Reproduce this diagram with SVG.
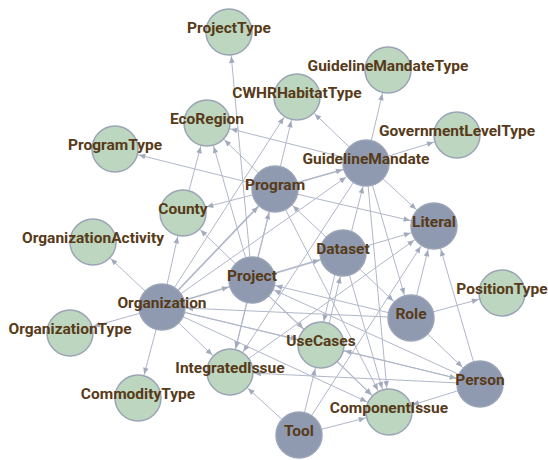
<svg xmlns="http://www.w3.org/2000/svg" width="548" height="460" viewBox="0 0 548 460">
  <style>
    .e { stroke: #b0b7c8; stroke-width: 1; fill: none; marker-end: url(#arr); }
    .t { stroke-width: 1.7; }
    .n circle { stroke: #9ba4b6; stroke-width: 1.5; }
    .c circle { fill: #bdd6bf; }
    .k circle { fill: #8f9ab0; }
    .n text { font-family: Roboto, "Liberation Sans", sans-serif; font-weight: 700; font-size: 15.5px; fill: #573a18; text-anchor: middle; }
  </style>
  <defs>
    <!-- arrowhead drawn 24.5 units back from the line end, i.e. on the target circle's rim -->
    <marker id="arr" viewBox="-40 -5 40 10" markerWidth="40" markerHeight="10" refX="0" refY="0" markerUnits="userSpaceOnUse" orient="auto">
      <path d="M-31,-2.8 L-24.5,0 L-31,2.8 z" fill="#a2aabd"/>
    </marker>
  </defs>
  <rect width="548" height="460" fill="#ffffff"/>

  <g id="edges">
    <!-- Organization -->
    <line class="e" x1="162" y1="307" x2="93" y2="242"/>
    <line class="e" x1="162" y1="307" x2="70" y2="333"/>
    <line class="e" x1="162" y1="307" x2="138" y2="398"/>
    <line class="e" x1="162" y1="307" x2="230" y2="372"/>
    <line class="e" x1="162" y1="307" x2="183" y2="213"/>
    <line class="e" x1="162" y1="307" x2="297" y2="97"/>
    <line class="e t" x1="162" y1="307" x2="252" y2="280"/>
    <line class="e t" x1="162" y1="307" x2="275" y2="189"/>
    <line class="e" x1="162" y1="307" x2="366" y2="163"/>
    <line class="e" x1="162" y1="307" x2="321" y2="345"/>
    <line class="e" x1="162" y1="307" x2="389" y2="412"/>
    <line class="e" x1="162" y1="307" x2="480" y2="384"/>
    <!-- Program -->
    <line class="e" x1="275" y1="189" x2="115" y2="149"/>
    <line class="e" x1="275" y1="189" x2="183" y2="213"/>
    <line class="e" x1="275" y1="189" x2="207" y2="123"/>
    <line class="e" x1="275" y1="189" x2="297" y2="97"/>
    <line class="e t" x1="275" y1="189" x2="366" y2="163"/>
    <line class="e" x1="275" y1="189" x2="434" y2="226"/>
    <line class="e" x1="275" y1="189" x2="389" y2="412"/>
    <line class="e" x1="275" y1="189" x2="230" y2="372"/>
    <!-- Project -->
    <line class="e" x1="252" y1="280" x2="229" y2="32"/>
    <line class="e" x1="252" y1="280" x2="207" y2="123"/>
    <line class="e" x1="252" y1="280" x2="275" y2="189"/>
    <line class="e t" x1="252" y1="280" x2="343" y2="253"/>
    <line class="e" x1="252" y1="280" x2="183" y2="213"/>
    <line class="e" x1="252" y1="280" x2="321" y2="345"/>
    <line class="e" x1="252" y1="280" x2="230" y2="372"/>
    <line class="e" x1="252" y1="280" x2="389" y2="412"/>
    <!-- GuidelineMandate -->
    <line class="e" x1="366" y1="163" x2="388" y2="70"/>
    <line class="e" x1="366" y1="163" x2="297" y2="97"/>
    <line class="e" x1="366" y1="163" x2="457" y2="135"/>
    <line class="e" x1="366" y1="163" x2="434" y2="226"/>
    <line class="e" x1="366" y1="163" x2="207" y2="123"/>
    <line class="e" x1="366" y1="163" x2="411" y2="318"/>
    <line class="e" x1="366" y1="163" x2="389" y2="412"/>
    <line class="e" x1="366" y1="163" x2="230" y2="372"/>
    <!-- Dataset -->
    <line class="e" x1="343" y1="253" x2="434" y2="226"/>
    <line class="e" x1="346" y1="253" x2="369" y2="163"/>
    <line class="e" x1="343" y1="253" x2="389" y2="412"/>
    <line class="e" x1="340" y1="253" x2="318" y2="345"/>
    <line class="e" x1="343" y1="253" x2="411" y2="318"/>
    <line class="e" x1="343" y1="253" x2="275" y2="189"/>
    <!-- UseCases -->
    <line class="e" x1="324" y1="345" x2="346" y2="253"/>
    <line class="e" x1="321" y1="345" x2="389" y2="412"/>
    <!-- Role -->
    <line class="e" x1="411" y1="318" x2="502" y2="293"/>
    <line class="e" x1="411" y1="318" x2="434" y2="226"/>
    <line class="e" x1="411" y1="318" x2="480" y2="384"/>
    <line class="e" x1="411" y1="318" x2="162" y2="307"/>
    <line class="e" x1="411" y1="318" x2="252" y2="280"/>
    <!-- Person -->
    <line class="e" x1="480" y1="384" x2="434" y2="226"/>
    <line class="e" x1="480" y1="384" x2="321" y2="345"/>
    <line class="e" x1="480" y1="384" x2="230" y2="372"/>
    <line class="e" x1="480" y1="384" x2="389" y2="412"/>
    <line class="e" x1="480" y1="384" x2="252" y2="280"/>
    <!-- Tool -->
    <line class="e" x1="299" y1="435" x2="230" y2="372"/>
    <line class="e" x1="299" y1="435" x2="389" y2="412"/>
    <line class="e" x1="299" y1="435" x2="321" y2="345"/>
    <line class="e" x1="299" y1="435" x2="434" y2="226"/>
    <!-- remaining -->
    <line class="e" x1="183" y1="213" x2="207" y2="123"/>
    <line class="e" x1="230" y1="372" x2="434" y2="226"/>
  </g>

  <g id="node-ProjectType" class="n c"><circle cx="229" cy="32" r="23"/><text x="229" y="33">ProjectType</text></g>
  <g id="node-GuidelineMandateType" class="n c"><circle cx="388" cy="70" r="23"/><text x="388" y="71">GuidelineMandateType</text></g>
  <g id="node-CWHRHabitatType" class="n c"><circle cx="297" cy="97" r="23"/><text x="297" y="98">CWHRHabitatType</text></g>
  <g id="node-EcoRegion" class="n c"><circle cx="207" cy="123" r="23"/><text x="207" y="124">EcoRegion</text></g>
  <g id="node-GovernmentLevelType" class="n c"><circle cx="457" cy="135" r="23"/><text x="457" y="136">GovernmentLevelType</text></g>
  <g id="node-ProgramType" class="n c"><circle cx="115" cy="149" r="23"/><text x="115" y="150">ProgramType</text></g>
  <g id="node-GuidelineMandate" class="n k"><circle cx="366" cy="163" r="23"/><text x="366" y="164">GuidelineMandate</text></g>
  <g id="node-Program" class="n k"><circle cx="275" cy="189" r="23"/><text x="275" y="190">Program</text></g>
  <g id="node-County" class="n c"><circle cx="183" cy="213" r="23"/><text x="183" y="214">County</text></g>
  <g id="node-Literal" class="n k"><circle cx="434" cy="226" r="23"/><text x="434" y="227">Literal</text></g>
  <g id="node-OrganizationActivity" class="n c"><circle cx="93" cy="242" r="23"/><text x="93" y="243">OrganizationActivity</text></g>
  <g id="node-Dataset" class="n k"><circle cx="343" cy="253" r="23"/><text x="343" y="254">Dataset</text></g>
  <g id="node-Project" class="n k"><circle cx="252" cy="280" r="23"/><text x="252" y="281">Project</text></g>
  <g id="node-PositionType" class="n c"><circle cx="502" cy="293" r="23"/><text x="502" y="294">PositionType</text></g>
  <g id="node-Organization" class="n k"><circle cx="162" cy="307" r="23"/><text x="162" y="308">Organization</text></g>
  <g id="node-Role" class="n k"><circle cx="411" cy="318" r="23"/><text x="411" y="319">Role</text></g>
  <g id="node-OrganizationType" class="n c"><circle cx="70" cy="333" r="23"/><text x="70" y="334">OrganizationType</text></g>
  <g id="node-UseCases" class="n c"><circle cx="321" cy="345" r="23"/><text x="321" y="346">UseCases</text></g>
  <g id="node-IntegratedIssue" class="n c"><circle cx="230" cy="372" r="23"/><text x="230" y="373">IntegratedIssue</text></g>
  <g id="node-Person" class="n k"><circle cx="480" cy="384" r="23"/><text x="480" y="385">Person</text></g>
  <g id="node-CommodityType" class="n c"><circle cx="138" cy="398" r="23"/><text x="138" y="399">CommodityType</text></g>
  <g id="node-ComponentIssue" class="n c"><circle cx="389" cy="412" r="23"/><text x="389" y="413">ComponentIssue</text></g>
  <g id="node-Tool" class="n k"><circle cx="299" cy="435" r="23"/><text x="299" y="436">Tool</text></g>
</svg>
